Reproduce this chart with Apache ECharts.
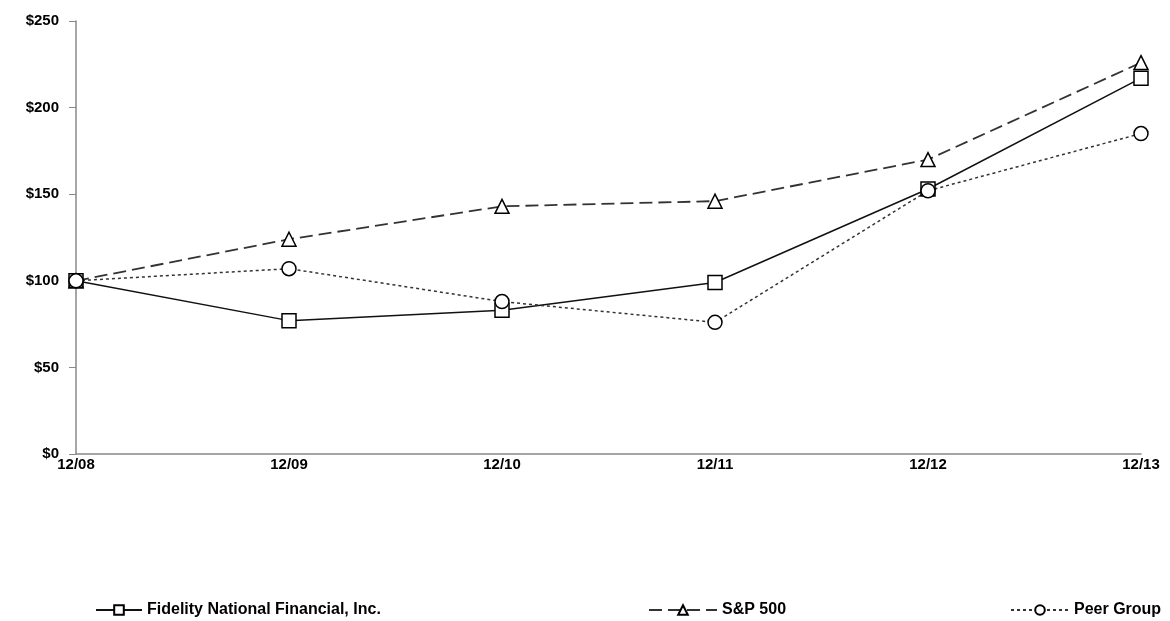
<!DOCTYPE html>
<html><head><meta charset="utf-8">
<script src="https://cdn.jsdelivr.net/npm/echarts@6/dist/echarts.min.js"></script>
<style>html,body{margin:0;padding:0;background:#fff}#c{width:1170px;height:621px}</style>
</head><body><div id="c"></div>
<script>
const categories = ['12/08','12/09','12/10','12/11','12/12','12/13'];
const fidelity = [100, 77, 83, 99, 153, 217];
const sp500 = [100, 124, 143, 146, 170, 226];
const peer = [100, 107, 88, 76, 152, 185];
const yTicks = [0, 50, 100, 150, 200, 250];
const names = ['Fidelity National Financial, Inc.', 'S&P 500', 'Peer Group'];

const chart = echarts.init(document.getElementById('c'));
const font = '"Liberation Sans", Arial, sans-serif';
const mk = (name, data, symbol, type, width, color) => ({
  name, type: 'line', data, symbol, symbolSize: 14,
  lineStyle: { color, width, type },
  itemStyle: { color: '#fff', borderColor: '#000', borderWidth: 1.5 },
  emphasis: { disabled: true }, z: 3
});
const legendBase = (name, left, w) => ({
  data: [name], left, top: 602, padding: 0, itemWidth: w, itemHeight: 12, itemGap: 4,
  textStyle: { fontFamily: font, fontWeight: 'bold', fontSize: 16, color: '#000' },
  selectedMode: false
});
chart.setOption({
  animation: false,
  backgroundColor: '#fff',
  grid: { left: 76, right: 29, top: 21, bottom: 167 },
  legend: [legendBase(names[0], 95, 46), legendBase(names[1], 648, 68), legendBase(names[2], 1010, 58)],
  xAxis: {
    type: 'category', data: categories, boundaryGap: false,
    axisLine: { lineStyle: { color: '#888', width: 1.5 } },
    axisTick: { show: false },
    axisLabel: { color: '#000', fontFamily: font, fontWeight: 'bold', fontSize: 15, margin: 3 }
  },
  yAxis: {
    type: 'value', min: 0, max: 250, interval: 50,
    axisLine: { show: true, lineStyle: { color: '#888', width: 1.5 } },
    axisTick: { show: true, length: 7, lineStyle: { color: '#888' } },
    splitLine: { show: false },
    axisLabel: { color: '#000', fontFamily: font, fontWeight: 'bold', fontSize: 15, margin: 17,
      formatter: v => yTicks.includes(v) ? '$' + v : '' }
  },
  series: [
    mk(names[0], fidelity, 'rect', 'solid', 1.5, '#111'),
    mk(names[1], sp500, 'triangle', [13, 6], 1.8, '#333'),
    mk(names[2], peer, 'circle', [3, 3], 1.5, '#333')
  ]
});
</script></body></html>
